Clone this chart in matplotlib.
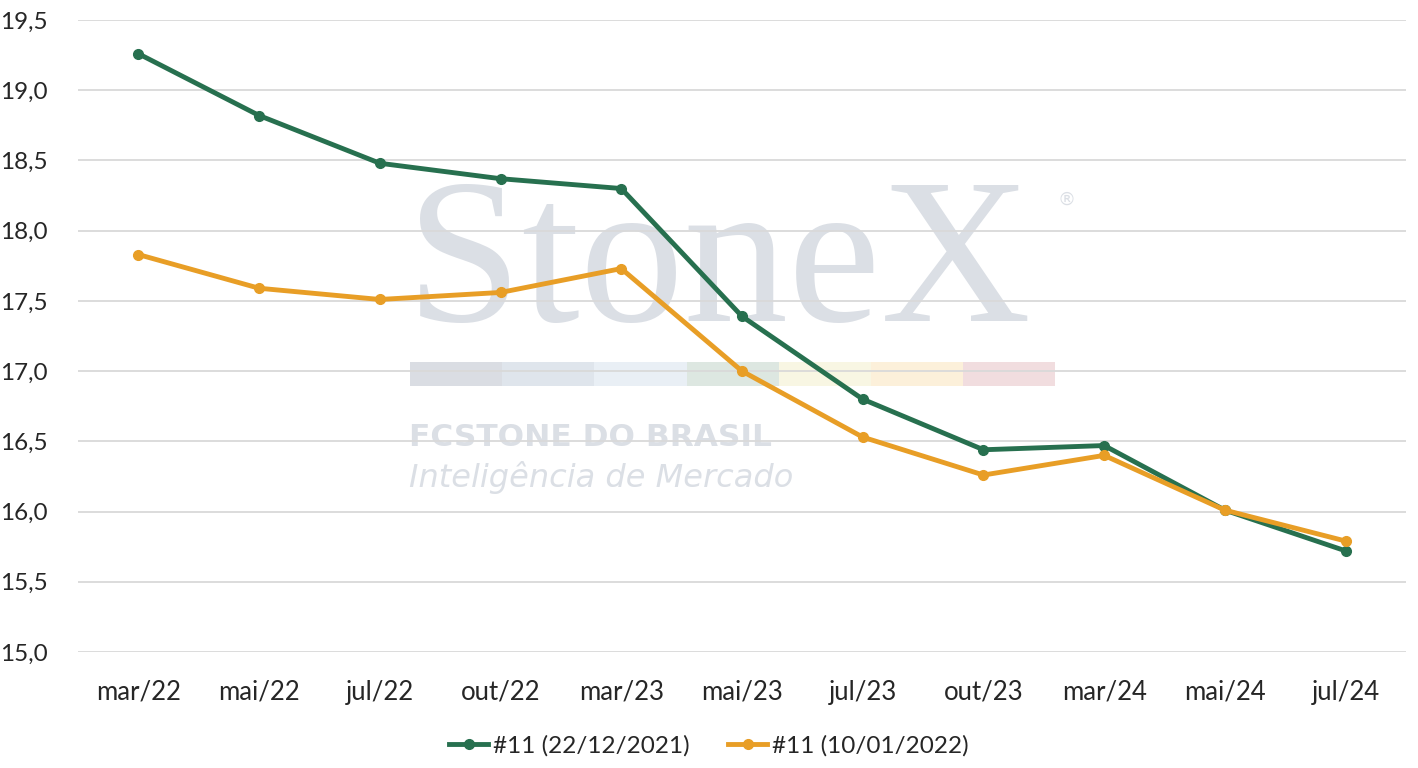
import matplotlib
matplotlib.use("Agg")
import matplotlib.pyplot as plt
from matplotlib.patches import Rectangle

plt.rcParams['font.family'] = ['Lato', 'DejaVu Sans']

meses = ['mar/22', 'mai/22', 'jul/22', 'out/22', 'mar/23', 'mai/23',
         'jul/23', 'out/23', 'mar/24', 'mai/24', 'jul/24']
serie_dez = [19.26, 18.82, 18.48, 18.37, 18.30, 17.39, 16.80, 16.44, 16.47, 16.01, 15.72]
serie_jan = [17.83, 17.59, 17.51, 17.56, 17.73, 17.00, 16.53, 16.26, 16.40, 16.01, 15.79]
rotulos = ['#11 (22/12/2021)', '#11 (10/01/2022)']
yticks = [15.0, 15.5, 16.0, 16.5, 17.0, 17.5, 18.0, 18.5, 19.0, 19.5]

verde = '#27704F'
laranja = '#E89E26'

W, H = 1418, 768
fig = plt.figure(figsize=(W / 100, H / 100), dpi=100)
ax = fig.add_axes([78 / W, 1 - 652 / H, (1406 - 78) / W, (652 - 20) / H])
ax.set_facecolor('none')

def px(x, y):
    return x / W, 1 - y / H

# marca d'agua
wm = '#DBDFE5'
ax.text(*px(406, 321), 'StoneX', transform=fig.transFigure, fontsize=150,
        family='Liberation Serif', color=wm, ha='left', va='baseline', zorder=0)
ax.text(*px(1058, 200), '®', transform=fig.transFigure, fontsize=13,
        family='DejaVu Sans', color=wm, ha='left', va='center', zorder=0)
faixas = ['#DADDE3', '#DFE5EC', '#E9EFF5', '#DDE7E1', '#F8F6E3', '#FCF0DA', '#F1DDDF']
for i, c in enumerate(faixas):
    x0, y0 = px(410 + i * 92.2, 386)
    ax.add_patch(Rectangle((x0, y0), 92.2 / W, 24 / H, transform=fig.transFigure,
                           facecolor=c, edgecolor='none', zorder=0, clip_on=False))
ax.text(*px(409, 437), 'FCSTONE DO BRASIL', transform=fig.transFigure, fontsize=22.5,
        family='DejaVu Sans', weight='bold', color=wm, ha='left', va='center', zorder=0)
ax.text(*px(409, 477), 'Inteligência de Mercado', transform=fig.transFigure, fontsize=23,
        family='DejaVu Sans', style='italic', color=wm,
        ha='left', va='center', zorder=0)

x = range(len(meses))
ax.plot(x, serie_dez, color=verde, lw=3.5, marker='o', ms=7, label=rotulos[0], zorder=3)
ax.plot(x, serie_jan, color=laranja, lw=3.5, marker='o', ms=7, label=rotulos[1], zorder=3)

ax.set_xlim(-0.5, len(meses) - 0.5)
ax.set_ylim(15.0, 19.5)
ax.set_yticks(yticks)
ax.set_yticklabels([f'{v:.1f}'.replace('.', ',') for v in yticks])
ax.set_xticks(list(x))
ax.set_xticklabels(meses)
ax.tick_params(axis='both', length=0, labelsize=18.5, colors='#262626')
ax.tick_params(axis='y', pad=22, labelsize=17.5)
ax.tick_params(axis='x', pad=20)
ax.grid(axis='y', color='#D9D9D9', lw=1.3)
ax.set_axisbelow(True)
for s in ax.spines.values():
    s.set_visible(False)

fig.legend(loc='center', bbox_to_anchor=(0.5, 1 - 746 / H), ncol=2, frameon=False,
           fontsize=17.5, handlelength=1.6, handletextpad=0.2, columnspacing=1.6,
           labelcolor='#262626')

fig.savefig('out.png', dpi=100)
